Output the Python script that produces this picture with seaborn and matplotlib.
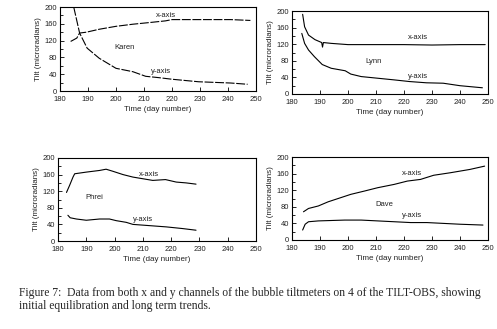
import matplotlib
matplotlib.use("Agg")
import matplotlib.pyplot as plt
import seaborn as sns
import pandas as pd
from matplotlib.ticker import MultipleLocator

# ---- data ----
karen_x_day = [183.8, 186.0, 187.0, 189.4, 194.0, 200.0, 206.0, 212.0, 217.7, 220.0, 229.5, 241.0, 248.0]
karen_x_val = [118, 126, 138, 140, 147, 154, 159, 163, 167, 170, 170, 170, 168]
karen_y_day = [184.9, 187.0, 189.7, 194.0, 200.0, 206.0, 210.6, 215.0, 220.0, 229.5, 241.0, 247.0]
karen_y_val = [200, 138, 102, 78, 54, 46, 35, 32, 28, 22, 19, 16]

lynn_x_day = [183.8, 184.5, 185.9, 188.2, 190.6, 190.9, 191.2, 194.0, 200.0, 210.0, 220.0, 230.0, 240.0, 249.0]
lynn_x_val = [192, 162, 142, 131, 124, 113, 124, 122, 119, 119, 119, 118, 119, 119]
lynn_y_day = [183.5, 184.5, 185.9, 188.0, 190.8, 194.0, 199.0, 201.0, 204.7, 210.6, 216.5, 222.0, 228.0, 234.0, 240.0, 248.0]
lynn_y_val = [146, 122, 106, 90, 71, 62, 56, 48, 42, 38, 34, 30, 27, 26, 20, 15]

phrei_x_day = [183.0, 184.1, 185.3, 185.9, 190.0, 194.7, 197.0, 199.4, 203.0, 206.5, 210.0, 213.5, 218.0, 221.8, 225.3, 228.8]
phrei_x_val = [117, 134, 154, 162, 166, 170, 173, 168, 160, 154, 150, 146, 148, 142, 140, 137]
phrei_y_day = [183.5, 184.3, 186.5, 190.0, 194.7, 198.2, 200.6, 204.1, 206.5, 212.4, 218.3, 224.0, 228.8]
phrei_y_val = [62, 56, 53, 50, 53, 53, 49, 45, 40, 37, 34, 30, 26]

dave_x_day = [184.1, 185.9, 189.4, 192.9, 196.5, 201.0, 205.9, 210.6, 216.5, 221.2, 225.9, 230.6, 236.5, 243.5, 248.8]
dave_x_val = [68, 76, 82, 92, 100, 110, 118, 126, 134, 142, 146, 156, 162, 170, 178]
dave_y_day = [183.8, 184.7, 185.9, 189.4, 198.8, 204.7, 210.6, 216.5, 222.4, 228.2, 234.1, 240.0, 248.2]
dave_y_val = [24, 38, 44, 46, 48, 48, 46, 44, 42, 42, 40, 38, 36]

x_ticks = [180, 190, 200, 210, 220, 230, 240, 250]
y_ticks = [0, 40, 80, 120, 160, 200]

panels = [
    dict(name="Karen", xd=karen_x_day, xv=karen_x_val, yd=karen_y_day, yv=karen_y_val,
         rect=[60, 7, 256, 91], xlab="Time (day number)",
         txt=[("x-axis", 218, 179), ("Karen", 203, 103), ("y-axis", 216, 46)], ls=(0, (8, 1.5))),
    dict(name="Lynn", xd=lynn_x_day, xv=lynn_x_val, yd=lynn_y_day, yv=lynn_y_val,
         rect=[292, 11, 488, 94], xlab="Time (day number)",
         txt=[("x-axis", 225, 135), ("Lynn", 209, 78), ("y-axis", 225, 43)], ls="-"),
    dict(name="Phrei", xd=phrei_x_day, xv=phrei_x_val, yd=phrei_y_day, yv=phrei_y_val,
         rect=[58, 158, 256, 241], xlab="Time (day number)",
         txt=[("x-axis", 212, 160), ("Phrei", 193, 106), ("y-axis", 210, 53)], ls="-"),
    dict(name="Dave", xd=dave_x_day, xv=dave_x_val, yd=dave_y_day, yv=dave_y_val,
         rect=[292, 157, 488, 240], xlab="Time (day number)",
         txt=[("x-axis", 223, 160), ("Dave", 213, 86), ("y-axis", 223, 58)], ls="-"),
]

sns.set_theme(style="white")
plt.rcParams['font.family'] = ['Liberation Sans', 'DejaVu Sans']

W, H = 497, 329
fig = plt.figure(figsize=(W / 100, H / 100), dpi=100)
fig.patch.set_facecolor("white")

for p in panels:
    l, t, r, b = p["rect"]
    ax = fig.add_axes([l / W, 1 - b / H, (r - l) / W, (b - t) / H])
    df = pd.concat([
        pd.DataFrame({"day": p["xd"], "tilt": p["xv"], "channel": "x"}),
        pd.DataFrame({"day": p["yd"], "tilt": p["yv"], "channel": "y"}),
    ])
    sns.lineplot(data=df, x="day", y="tilt", units="channel", estimator=None,
                 color="black", linewidth=0.8, ax=ax, sort=False)
    for ln in ax.lines:
        ln.set_linestyle(p["ls"])
    ax.set_xlim(180, 250)
    ax.set_ylim(0, 200)
    ax.set_xticks(x_ticks)
    ax.set_yticks(y_ticks)
    ax.yaxis.set_minor_locator(MultipleLocator(20))
    ax.tick_params(axis="both", which="both", direction="in", labelsize=5.5,
                   color="black", labelcolor="#222222")
    ax.tick_params(axis="x", pad=3.5)
    ax.tick_params(axis="y", pad=2)
    ax.tick_params(which="major", length=3, width=0.6, left=True, bottom=True)
    ax.tick_params(which="minor", length=2, width=0.6, left=True)
    for s in ax.spines.values():
        s.set_visible(True)
        s.set_color("black")
        s.set_linewidth(0.8)
    ax.set_xlabel(p["xlab"], fontsize=5.8, labelpad=2, color="#222222")
    ax.set_ylabel("Tilt (microradians)", fontsize=5.8, labelpad=2, color="#222222")
    for s, xx, yy in p["txt"]:
        ax.text(xx, yy, s, fontsize=5.5, ha="center", va="center", color="#222222")

fig.text(19 / W, 1 - 293 / H, "Figure 7:  Data from both x and y channels of the bubble tiltmeters on 4 of the TILT-OBS, showing",
         fontsize=8.4, family="Liberation Serif", va="center", ha="left")
fig.text(19 / W, 1 - 306 / H, "initial equilibration and long term trends.",
         fontsize=8.4, family="Liberation Serif", va="center", ha="left")

fig.savefig("out.png", dpi=100, facecolor="white")
